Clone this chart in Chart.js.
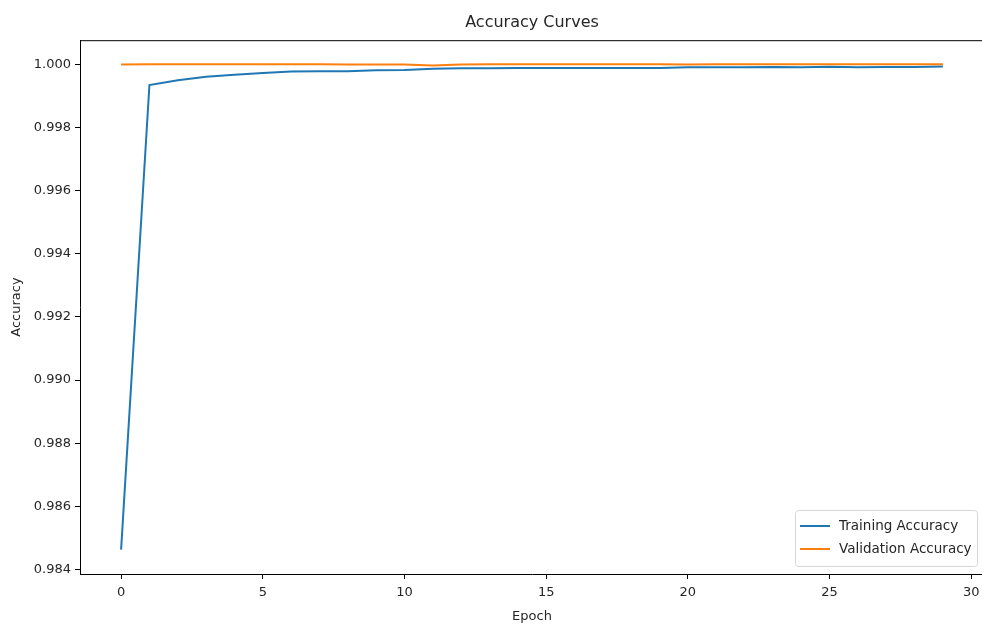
<!DOCTYPE html>
<html>
<head>
<meta charset="utf-8">
<script src="https://cdn.jsdelivr.net/npm/chart.js@4/dist/chart.umd.min.js"></script>
<style>
  html, body { margin: 0; padding: 0; background: #fff; overflow: hidden; }
  #wrap { width: 990px; height: 631px; }
</style>
</head>
<body>
<div id="wrap"><canvas id="acc"></canvas></div>
<script>
const epochs = [0, 1, 2, 3, 4, 5, 6, 7, 8, 9, 10, 11, 12, 13, 14, 15, 16, 17, 18, 19, 20, 21, 22, 23, 24, 25, 26, 27, 28, 29];
const trainingAcc = [0.98463, 0.99934, 0.99949, 0.99960, 0.99967, 0.99972, 0.99977, 0.99978, 0.99978, 0.99981,
                     0.99982, 0.99986, 0.99987, 0.99987, 0.99988, 0.99988, 0.99988, 0.99988, 0.99988, 0.99988,
                     0.99990, 0.99990, 0.99990, 0.99991, 0.99990, 0.99992, 0.99990, 0.99991, 0.99991, 0.99993];
const validationAcc = [0.99999, 1.00000, 1.00000, 1.00000, 1.00000, 1.00000, 1.00000, 1.00000, 0.99999, 0.99999,
                       0.99999, 0.99996, 0.99999, 1.00000, 1.00000, 1.00000, 1.00000, 1.00000, 1.00000, 1.00000,
                       0.99999, 1.00000, 1.00000, 1.00000, 1.00000, 1.00000, 1.00000, 1.00000, 1.00000, 1.00000];
const xTicks = [0, 5, 10, 15, 20, 25, 30];
const yTicks = [0.984, 0.986, 0.988, 0.990, 0.992, 0.994, 0.996, 0.998, 1.000];
const seriesNames = ['Training Accuracy', 'Validation Accuracy'];

const FONT = 'DejaVu Sans';
const TXT = '#262626';

// top spine + legend box in the lower right, matplotlib style
const frameAndLegend = {
  id: 'frameAndLegend',
  afterDraw(chart) {
    const { ctx, chartArea: a } = chart;
    ctx.save();
    ctx.strokeStyle = '#000';
    ctx.lineWidth = 1;
    ctx.beginPath();
    ctx.moveTo(a.left, a.top + 0.5);
    ctx.lineTo(a.right, a.top + 0.5);
    ctx.moveTo(a.right - 0.5, a.top);
    ctx.lineTo(a.right - 0.5, a.bottom);
    ctx.stroke();

    const bx = 795.5, by = 510.5, bw = 182, bh = 56, r = 3;
    ctx.fillStyle = 'rgba(255,255,255,0.8)';
    ctx.strokeStyle = '#d6d6d6';
    ctx.beginPath();
    ctx.roundRect(bx, by, bw, bh, r);
    ctx.fill();
    ctx.stroke();

    ctx.font = '13.5px "' + FONT + '"';
    ctx.textBaseline = 'middle';
    ctx.textAlign = 'left';
    chart.data.datasets.forEach((ds, i) => {
      const y = 526 + i * 23;
      ctx.strokeStyle = ds.borderColor;
      ctx.lineWidth = 2;
      ctx.beginPath();
      ctx.moveTo(800, y);
      ctx.lineTo(830, y);
      ctx.stroke();
      ctx.fillStyle = TXT;
      ctx.fillText(ds.label, 839, y);
    });
    ctx.restore();
  }
};

new Chart(document.getElementById('acc'), {
  type: 'line',
  data: {
    datasets: [
      {
        label: seriesNames[0],
        data: epochs.map((e, i) => ({ x: e, y: trainingAcc[i] })),
        borderColor: '#1f77b4',
        borderWidth: 2,
        pointRadius: 0,
        tension: 0,
        order: 1
      },
      {
        label: seriesNames[1],
        data: epochs.map((e, i) => ({ x: e, y: validationAcc[i] })),
        borderColor: '#ff7f0e',
        borderWidth: 2,
        pointRadius: 0,
        tension: 0,
        order: 0
      }
    ]
  },
  options: {
    responsive: true,
    maintainAspectRatio: false,
    animation: false,
    layout: { padding: { left: 0, right: 6, top: 0, bottom: 0 } },
    plugins: {
      legend: { display: false },
      tooltip: { enabled: false },
      title: {
        display: true,
        fullSize: false,
        text: 'Accuracy Curves',
        color: TXT,
        font: { family: FONT, size: 16, weight: 'normal' },
        padding: { top: 13, bottom: 8 }
      }
    },
    scales: {
      x: {
        type: 'linear',
        min: -1.45,
        max: 30.45,
        afterBuildTicks: (axis) => { axis.ticks = xTicks.map(v => ({ value: v })); },
        afterFit: (axis) => { axis.height = 57; },
        ticks: { color: TXT, font: { family: FONT, size: 13 }, padding: 6, maxRotation: 0 },
        grid: { drawOnChartArea: false, drawTicks: true, tickLength: 5, color: '#000' },
        border: { display: true, color: '#000', width: 1 },
        title: { display: true, text: 'Epoch', color: TXT, font: { family: FONT, size: 13 }, padding: { top: 0, bottom: 7 } }
      },
      y: {
        min: 0.98386,
        max: 1.00076,
        afterBuildTicks: (axis) => { axis.ticks = yTicks.map(v => ({ value: v })); },
        afterFit: (axis) => { axis.width = 80; },
        ticks: { color: TXT, font: { family: FONT, size: 13 }, padding: 4, callback: (v) => Number(v).toFixed(3) },
        grid: { drawOnChartArea: false, drawTicks: true, tickLength: 5, color: '#000' },
        border: { display: true, color: '#000', width: 1 },
        title: { display: true, text: 'Accuracy', color: TXT, font: { family: FONT, size: 13 }, padding: { top: 9, bottom: 0 } }
      }
    }
  },
  plugins: [frameAndLegend]
});
</script>
</body>
</html>
